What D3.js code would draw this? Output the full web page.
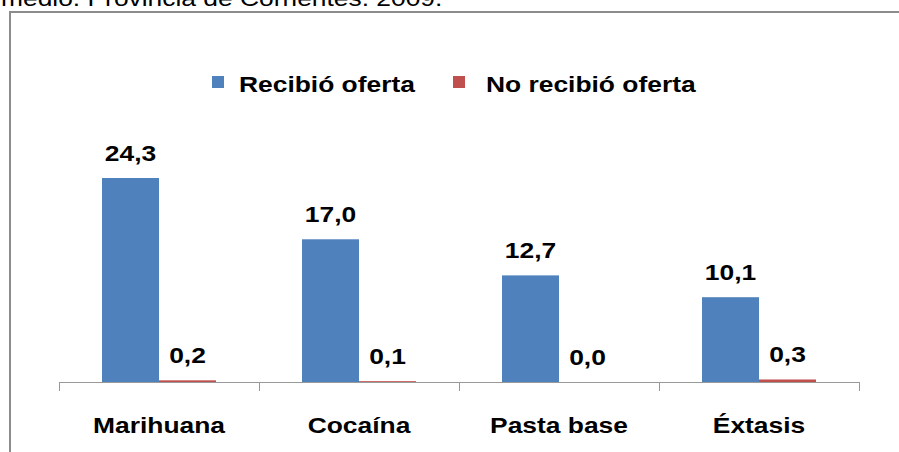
<!DOCTYPE html>
<html><head><meta charset="utf-8">
<script src="https://cdn.jsdelivr.net/npm/d3@7"></script>
<style>html,body{margin:0;padding:0;background:#fff;overflow:hidden}</style>
</head><body>
<svg id="chart" width="899" height="452"></svg>
<script>
const categories = ["Marihuana", "Cocaína", "Pasta base", "Éxtasis"];
const seriesNames = ["Recibió oferta", "No recibió oferta"];
const recibio = [24.3, 17.0, 12.7, 10.1];
const noRecibio = [0.2, 0.1, 0.0, 0.3];
const recibioLabels = ["24,3", "17,0", "12,7", "10,1"];
const noRecibioLabels = ["0,2", "0,1", "0,0", "0,3"];
const titleText = "medio. Provincia de Corrientes. 2009.";
const colors = ["#4F81BD", "#C0504D"];

const svg = d3.select("#chart");
const font = "Arial, 'Liberation Sans', sans-serif";
const sx = 1.2;

function stretchedText(g, x, y, txt, size, weight, anchor, scale) {
  return g.append("text")
    .attr("transform", `translate(${x},${y}) scale(${scale || sx},1)`)
    .attr("text-anchor", anchor)
    .attr("font-family", font)
    .attr("font-size", size)
    .attr("font-weight", weight)
    .attr("fill", "#000")
    .text(txt);
}

// title fragment (cut off at the top, as in the reference)
stretchedText(svg, 1, 6, titleText, 22, "normal", "start");

// frame
svg.append("path")
  .attr("d", "M10,460 L10,12 L905,12")
  .attr("fill", "none").attr("stroke", "#8c8c8c").attr("stroke-width", 2);

const x0 = d3.scaleBand().domain(categories).range([59, 859]).paddingInner(0).paddingOuter(0);
const x1 = d3.scaleBand().domain(seriesNames).range([43, 157]);
const y = d3.scaleLinear().domain([0, 24.3]).range([382, 178]);

const data = categories.map((c, i) => ({
  cat: c,
  vals: [
    {s: seriesNames[0], v: recibio[i], lab: recibioLabels[i], col: colors[0]},
    {s: seriesNames[1], v: noRecibio[i], lab: noRecibioLabels[i], col: colors[1]}
  ]
}));

const groups = svg.selectAll("g.cat").data(data).enter().append("g")
  .attr("class", "cat")
  .attr("transform", d => `translate(${x0(d.cat)},0)`);

groups.selectAll("rect").data(d => d.vals).enter().append("rect")
  .attr("x", d => x1(d.s))
  .attr("width", x1.bandwidth())
  .attr("y", d => y(d.v))
  .attr("height", d => y(0) - y(d.v))
  .attr("fill", d => d.col);

groups.each(function(d) {
  const g = d3.select(this);
  d.vals.forEach(v => {
    stretchedText(g, x1(v.s) + x1.bandwidth() / 2, y(v.v) - 17, v.lab, 22, "bold", "middle");
  });
});

// axis
const axis = d3.axisBottom(x0).tickSize(0).tickFormat("");
const axG = svg.append("g").attr("transform", "translate(0,382)").call(axis);
axG.select(".domain").attr("stroke", "#999").attr("stroke-width", 1);
const tickPos = categories.map(c => x0(c)).concat([x0.range()[1]]);
svg.selectAll("line.tk").data(tickPos).enter().append("line")
  .attr("class", "tk")
  .attr("x1", d => d + 0.5).attr("x2", d => d + 0.5)
  .attr("y1", 382).attr("y2", 391)
  .attr("stroke", "#999").attr("stroke-width", 1);

categories.forEach(c => {
  stretchedText(svg, x0(c) + x0.bandwidth() / 2, 433, c, 22, "bold", "middle");
});

// legend
const legendItems = [
  {name: seriesNames[0], col: colors[0], x: 212, tx: 239},
  {name: seriesNames[1], col: colors[1], x: 453, tx: 486}
];
legendItems.forEach(it => {
  svg.append("rect").attr("x", it.x).attr("y", 76).attr("width", 12).attr("height", 12).attr("fill", it.col);
  stretchedText(svg, it.tx, 92, it.name, 22, "bold", "start");
});
</script>
</body></html>
